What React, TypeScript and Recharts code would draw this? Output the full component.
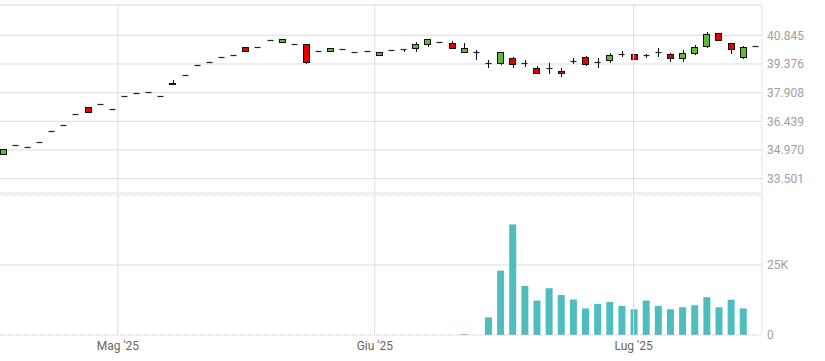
import React from 'react';
import { ComposedChart, BarChart, Bar, XAxis, YAxis, CartesianGrid, ReferenceLine } from 'recharts';

// ---- data ----
const tradingDays = [
  '2025-04-15', '2025-04-16', '2025-04-17', '2025-04-22', '2025-04-23', '2025-04-24', '2025-04-25',
  '2025-04-28', '2025-04-29', '2025-04-30', '2025-05-02', '2025-05-05', '2025-05-06', '2025-05-07',
  '2025-05-08', '2025-05-09', '2025-05-12', '2025-05-13', '2025-05-14', '2025-05-15', '2025-05-16',
  '2025-05-19', '2025-05-20', '2025-05-21', '2025-05-22', '2025-05-23', '2025-05-26', '2025-05-27',
  '2025-05-28', '2025-05-29', '2025-05-30', '2025-06-02', '2025-06-03', '2025-06-04', '2025-06-05',
  '2025-06-06', '2025-06-09', '2025-06-10', '2025-06-11', '2025-06-12', '2025-06-13', '2025-06-16',
  '2025-06-17', '2025-06-18', '2025-06-19', '2025-06-20', '2025-06-23', '2025-06-24', '2025-06-25',
  '2025-06-26', '2025-06-27', '2025-06-30', '2025-07-01', '2025-07-02', '2025-07-03', '2025-07-04',
  '2025-07-07', '2025-07-08', '2025-07-09', '2025-07-10', '2025-07-11', '2025-07-14', '2025-07-15',
];

const openValues = [
  34750, 35243, 35125, 35366, 35929, 36267, 36830, 37173, 37342, 37055,
  37737, 37906, 37957, 37752, 38370, 38812, 39324, 39493, 39749, 39836,
  40230, 40230, 40579, 40487, 40384, 40425, 40056, 40041, 40143, 40005,
  40056, 39821, 40092, 40128, 40179, 40399, 40502, 40435, 39974, 40015,
  39427, 39411, 39698, 39411, 39186, 39155, 39032, 39544, 39718, 39462,
  39580, 39872, 39887, 39836, 39974, 39887, 39698, 39923, 40297, 40947,
  40435, 39749, 40312,
];
const highValues = [
  35020, 35243, 35125, 35366, 35929, 36267, 36830, 37173, 37342, 37055,
  37737, 37906, 37957, 37752, 38556, 38812, 39324, 39493, 39749, 39836,
  40230, 40230, 40579, 40640, 40384, 40425, 40056, 40179, 40143, 40005,
  40056, 39974, 40092, 40128, 40517, 40640, 40502, 40553, 40435, 40092,
  39580, 40015, 39720, 39560, 39250, 39442, 39170, 39660, 39780, 39680,
  39940, 40040, 39913, 39890, 40170, 39940, 40090, 40348, 41029, 40988,
  40476, 40312, 40312,
];
const lowValues = [
  34750, 35243, 35125, 35366, 35929, 36267, 36830, 36917, 37342, 37055,
  37737, 37906, 37957, 37752, 38350, 38812, 39324, 39493, 39749, 39836,
  40041, 40230, 40579, 40487, 40384, 39411, 40056, 40041, 40143, 40005,
  40056, 39821, 40092, 40041, 40041, 40297, 40502, 40210, 39974, 39631,
  39247, 39400, 39237, 39260, 38930, 38899, 38761, 39420, 39320, 39220,
  39470, 39790, 39616, 39740, 39785, 39530, 39530, 39910, 40270, 40580,
  39939, 39667, 40312,
];
const closeValues = [
  35020, 35243, 35125, 35366, 35929, 36267, 36830, 36917, 37342, 37055,
  37737, 37906, 37957, 37752, 38400, 38812, 39324, 39493, 39749, 39836,
  40041, 40230, 40579, 40640, 40384, 39478, 40056, 40179, 40143, 40005,
  40056, 39974, 40092, 40128, 40399, 40640, 40502, 40210, 40210, 40015,
  39427, 39974, 39360, 39411, 38930, 39155, 38899, 39544, 39375, 39462,
  39836, 39872, 39616, 39836, 39974, 39667, 39954, 40230, 40912, 40604,
  40128, 40230, 40312,
];
const volumeValues = [
  0, 0, 0, 0, 0, 0, 0, 0, 0, 0,
  0, 0, 0, 0, 0, 0, 0, 0, 0, 0,
  0, 0, 0, 0, 0, 0, 0, 0, 0, 0,
  0, 0, 0, 0, 0, 0, 0, 0, 300, 0,
  6300, 23000, 39500, 17500, 12300, 16700, 14300, 12700, 9500, 11100,
  11800, 10400, 9200, 12300, 10400, 9200, 9900, 10600, 13500, 9900,
  12600, 9500, 0,
];

const priceTicks = [33501, 34970, 36439, 37908, 39376, 40845];
const volumeTicks = [0, 25000];
const monthStarts = ['2025-05-01', '2025-06-01', '2025-07-01'];
const monthLabels = ["Mag '25", "Giu '25", "Lug '25"];

// ---- derived ----
const data = tradingDays.map((d, i) => ({
  i,
  date: d,
  open: openValues[i],
  high: highValues[i],
  low: lowValues[i],
  close: closeValues[i],
  range: [lowValues[i], highValues[i]],
  volume: volumeValues[i],
}));

// position of a calendar date on the trading-day index axis (linear in time between sessions)
function positionOf(iso: string): number {
  const t = Date.parse(iso);
  for (let k = 0; k < tradingDays.length - 1; k++) {
    const a = Date.parse(tradingDays[k]);
    const b = Date.parse(tradingDays[k + 1]);
    if (t >= a && t <= b) return k + (t - a) / (b - a);
  }
  return 0;
}
const monthPositions = monthStarts.map(positionOf);
const labelAt = (v: number) => {
  const k = monthPositions.findIndex((p) => Math.abs(p - v) < 1e-6);
  return k >= 0 ? monthLabels[k] : '';
};

const fmtPrice = (v: number) => String(Math.round(v)).replace(/\B(?=(\d{3})+(?!\d))/g, '.');
const fmtVol = (v: number) => (v === 0 ? '0' : `${v / 1000}K`);

const X_DOMAIN: [number, number] = [-0.22, 62.58];
const PRICE_DOMAIN: [number, number] = [32769, 42397];
const VOL_DOMAIN: [number, number] = [0, 50000];

const FONT = 'Roboto, "DejaVu Sans", sans-serif';
const GREEN = '#5cbb35';
const RED = '#e50000';
const GRID = '#dcdcdc';

function Candle(props: any) {
  const { x, y, width, height, payload } = props;
  if (x == null || y == null || !payload) return null;
  const { open, close, high, low } = payload;
  const span = high - low;
  const h = height || 0;
  const ratio = span > 0 ? h / span : 0;
  const py = (v: number) => y + (high - v) * ratio;
  const cx = Math.round(x + width / 2) + 0.5;
  const left = Math.round(x) + 0.5;
  const w = Math.round(width) - 1;
  const topV = Math.max(open, close);
  const botV = Math.min(open, close);
  const top = Math.round(py(topV)) + 0.5;
  const bot = Math.round(py(botV)) + 0.5;
  const up = close > open;
  const down = close < open;
  return (
    <g>
      {h > 0 && (
        <line x1={cx} x2={cx} y1={Math.round(y)} y2={Math.round(y + h) + 1} stroke="#111" strokeWidth={1} />
      )}
      {up || down ? (
        <rect
          x={left}
          y={top}
          width={w}
          height={Math.max(bot - top, 1)}
          fill={up ? GREEN : RED}
          stroke="#111"
          strokeWidth={1}
        />
      ) : (
        <line x1={left} x2={left + w} y1={top} y2={top} stroke="#222" strokeWidth={1.2} />
      )}
    </g>
  );
}

const PriceTick = (props: any) => (
  <text x={props.x} y={props.y} dy="0.35em" textAnchor="start" fill="#a0a0a0" fontSize={12} fontFamily={FONT}>
    {fmtPrice(props.payload.value)}
  </text>
);
const VolTick = (props: any) => (
  <text x={props.x} y={props.y} dy="0.35em" textAnchor="start" fill="#a0a0a0" fontSize={12} fontFamily={FONT}>
    {fmtVol(props.payload.value)}
  </text>
);

export default function App() {
  return (
    <div style={{ position: 'absolute', left: 0, top: 0, width: 825, height: 361, background: '#fff' }}>
      <div style={{ position: 'absolute', left: 0, top: 0 }}>
        <ComposedChart width={825} height={195} data={data} margin={{ top: 5, right: 0, bottom: 2, left: 0 }}>
          <CartesianGrid vertical={false} stroke={GRID} />
          <XAxis type="number" dataKey="i" domain={X_DOMAIN} hide allowDataOverflow />
          <YAxis
            orientation="right"
            width={63}
            domain={PRICE_DOMAIN}
            ticks={priceTicks}
            allowDataOverflow
            tickLine={false}
            tickSize={0}
            tickMargin={5}
            axisLine={{ stroke: '#cfcfcf', strokeDasharray: '1 1' }}
            tick={<PriceTick />}
          />
          <ReferenceLine y={PRICE_DOMAIN[1]} stroke="#ececec" />
          {monthPositions.map((p, k) => (
            <ReferenceLine key={k} x={p} stroke={GRID} />
          ))}
          <Bar dataKey="range" barSize={7} shape={<Candle />} isAnimationActive={false} />
        </ComposedChart>
      </div>
      <div style={{ position: 'absolute', left: 0, top: 190 }}>
        <BarChart width={825} height={171} data={data} margin={{ top: 5, right: 0, bottom: 0, left: 0 }}>
          <CartesianGrid vertical={false} stroke={GRID} horizontalValues={[25000]} />
          <XAxis
            type="number"
            dataKey="i"
            domain={X_DOMAIN}
            allowDataOverflow
            ticks={monthPositions}
            tickFormatter={labelAt}
            height={26}
            tickLine={false}
            tickSize={0}
            tickMargin={6}
            axisLine={{ stroke: '#c8c8c8', strokeDasharray: '1 1' }}
            tick={{ fill: '#666', fontSize: 12, fontFamily: FONT }}
            interval={0}
          />
          <YAxis
            orientation="right"
            width={63}
            domain={VOL_DOMAIN}
            ticks={volumeTicks}
            tickLine={false}
            tickSize={0}
            tickMargin={5}
            axisLine={{ stroke: '#cfcfcf', strokeDasharray: '1 1' }}
            tick={<VolTick />}
          />
          <ReferenceLine y={VOL_DOMAIN[1]} stroke="#cfcfcf" strokeDasharray="1 1" />
          {monthPositions.map((p, k) => (
            <ReferenceLine key={k} x={p} stroke={GRID} />
          ))}
          <Bar dataKey="volume" barSize={7} fill="#4fbdbd" isAnimationActive={false} />
        </BarChart>
      </div>
    </div>
  );
}
